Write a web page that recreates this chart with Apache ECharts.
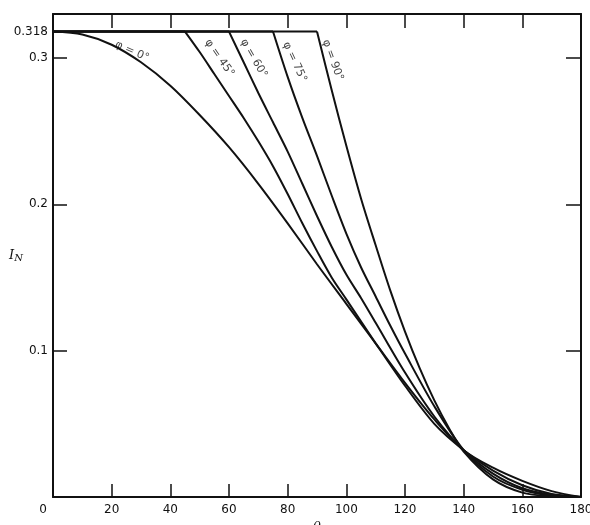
<!DOCTYPE html>
<html><head><meta charset="utf-8">
<script src="https://cdn.jsdelivr.net/npm/echarts@6/dist/echarts.min.js"></script>
<style>html,body{margin:0;padding:0;background:#fff}#c{width:590px;height:525px}</style>
</head><body><div id="c"></div>
<script>
// ---- data ----
const plateau = 0.318;
const phis = [0, 45, 60, 75, 90];
const phiNames = ['φ = 0°', 'φ = 45°', 'φ = 60°', 'φ = 75°', 'φ = 90°'];

const theta0 = [0,10,20,30,40,50,60,70,80,90,100,110,120,130,140,150,160,170,180];
const inPhi0 = [0.318,0.316,0.309,0.297,0.281,0.261,0.239,0.214,0.187,0.159,0.132,0.105,0.078,0.053,0.032,0.020,0.011,0.004,0];

const theta45 = [45,50,55,60,65,70,75,80,85,90,95,100,110,120,130,140,150,160,170,180];
const inPhi45 = [0.318,0.304,0.289,0.274,0.259,0.243,0.226,0.207,0.187,0.168,0.150,0.135,0.105,0.076,0.050,0.032,0.018,0.008,0.002,0];

const theta60 = [60,65,70,75,80,85,90,95,100,105,110,120,130,140,150,160,170,180];
const inPhi60 = [0.318,0.297,0.276,0.256,0.236,0.214,0.192,0.171,0.152,0.136,0.119,0.085,0.055,0.032,0.016,0.006,0.0015,0];

const theta75 = [75,80,85,90,95,100,105,110,115,120,130,140,150,160,170,180];
const inPhi75 = [0.318,0.287,0.259,0.233,0.206,0.180,0.157,0.137,0.117,0.098,0.062,0.032,0.014,0.005,0.001,0];

const theta90 = [90,95,100,105,110,115,120,125,130,135,140,150,160,170,180];
const inPhi90 = [0.318,0.278,0.240,0.204,0.172,0.141,0.113,0.088,0.066,0.047,0.031,0.012,0.003,0.0005,0];

const yTicks = [0.1, 0.2, 0.3, 0.318];
const yTicksRight = [0.1, 0.2, 0.3];

// ---- build ----
const thetas = [theta0, theta45, theta60, theta75, theta90];
const values = [inPhi0, inPhi45, inPhi60, inPhi75, inPhi90];
const pair = (xs, ys) => xs.map((x, i) => [x, ys[i]]);

// label anchors (index into each curve), screen-space pixel offsets, rotation
const labelIdx = [3, 2, 1, 1, 1];
const labelShift = [[-9, -11], [5, -16], [10, -4], [7, -15], [1, -30]];
const labelRot = [-24, -55, -60, -65, -70];
// ECharts applies label offset in the rotated frame: convert screen offset
const toLocal = (d, rot) => {
  const a = -rot * Math.PI / 180; // clockwise angle on screen
  return [d[0] * Math.cos(a) + d[1] * Math.sin(a), -d[0] * Math.sin(a) + d[1] * Math.cos(a)];
};

const ink = '#111';
const series = [];
phis.forEach((p, k) => {
  if (p > 0) {
    series.push({
      type: 'line', data: [[0, plateau], [p, plateau]], symbol: 'none',
      lineStyle: { color: ink, width: 2 }, silent: true, z: 3
    });
  }
  series.push({
    type: 'line', data: pair(thetas[k], values[k]), symbol: 'none',
    smooth: 0.3,
    lineStyle: { color: ink, width: 2 }, silent: true, z: 3
  });
  const i = labelIdx[k];
  series.push({
    type: 'scatter', symbolSize: 0, silent: true, z: 5,
    data: [[thetas[k][i], values[k][i]]],
    label: {
      show: true, formatter: phiNames[k], position: 'inside',
      offset: toLocal(labelShift[k], labelRot[k]), rotate: labelRot[k],
      align: 'center', verticalAlign: 'middle',
      fontFamily: 'DejaVu Sans', fontSize: 11, color: ink
    }
  });
});

const chart = echarts.init(document.getElementById('c'), null, { renderer: 'canvas' });
chart.setOption({
  backgroundColor: '#fff',
  animation: false,
  grid: { left: 53, right: 9, top: 14, bottom: 28, containLabel: false, outerBoundsMode: 'none' },
  xAxis: [{
    type: 'value', min: 0, max: 180, interval: 20, position: 'bottom',
    name: 'θ', nameLocation: 'middle', nameGap: 24, nameMoveOverlap: false,
    nameTextStyle: { fontFamily: 'DejaVu Serif', fontStyle: 'italic', fontSize: 13, color: ink },
    axisLine: { show: true, onZero: false, lineStyle: { color: ink, width: 2 } },
    axisTick: { show: true, inside: true, length: 13, lineStyle: { color: ink, width: 1.5 } },
    axisLabel: {
      show: true, margin: 7, fontFamily: 'DejaVu Sans', fontSize: 12, color: ink,
      formatter: v => v === 0 ? '{z|0}' : String(v),
      rich: { z: { fontFamily: 'DejaVu Sans', fontSize: 12, color: ink, padding: [0, 20, 0, 0] } }
    },
    splitLine: { show: false }
  }, {
    type: 'value', min: 0, max: 180, interval: 20, position: 'top',
    axisLine: { show: true, onZero: false, lineStyle: { color: ink, width: 2 } },
    axisTick: { show: true, inside: true, length: 14, lineStyle: { color: ink, width: 1.5 } },
    axisLabel: { show: false }, splitLine: { show: false }
  }],
  yAxis: [{
    type: 'value', min: 0, max: 0.33, position: 'left',
    name: '{i|I}{s|N}', nameLocation: 'middle', nameGap: 30, nameRotate: 0, nameMoveOverlap: false,
    nameTextStyle: {
      rich: {
        i: { fontFamily: 'DejaVu Serif', fontStyle: 'italic', fontSize: 13, color: ink },
        s: { fontFamily: 'DejaVu Serif', fontStyle: 'italic', fontSize: 10, color: ink, verticalAlign: 'bottom', padding: [6, 0, 0, 0] }
      }
    },
    axisLine: { show: true, onZero: false, lineStyle: { color: ink, width: 2 } },
    axisTick: { show: true, inside: true, length: 14, customValues: yTicks, lineStyle: { color: ink, width: 1.5 } },
    axisLabel: { show: true, customValues: yTicks, margin: 5, fontFamily: 'DejaVu Sans', fontSize: 12, color: ink,
      formatter: v => String(v) },
    splitLine: { show: false }
  }, {
    type: 'value', min: 0, max: 0.33, position: 'right',
    axisLine: { show: true, onZero: false, lineStyle: { color: ink, width: 2 } },
    axisTick: { show: true, inside: true, length: 15, customValues: yTicksRight, lineStyle: { color: ink, width: 1.5 } },
    axisLabel: { show: false }, splitLine: { show: false }
  }],
  series: series
});
</script>
</body></html>
